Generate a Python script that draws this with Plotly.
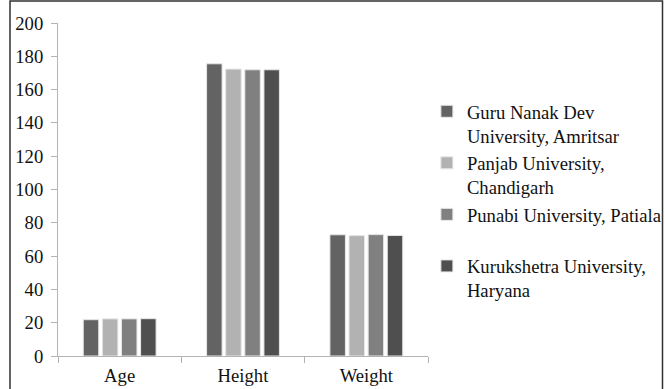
import plotly.graph_objects as go

categories = ["Age", "Height", "Weight"]
series_names = [
    "Guru Nanak Dev<br>University, Amritsar",
    "Panjab University,<br>Chandigarh",
    "Punabi University, Patiala<br> ",
    "Kurukshetra University,<br>Haryana",
]
guru_nanak = [21.8, 175.5, 72.8]
panjab = [22.3, 172.3, 72.3]
punjabi = [22.3, 171.9, 72.9]
kurukshetra = [22.4, 171.9, 72.4]
y_ticks = [0, 20, 40, 60, 80, 100, 120, 140, 160, 180, 200]

colors = ["#636363", "#b2b2b2", "#808080", "#4f4f4f"]
series_values = [guru_nanak, panjab, punjabi, kurukshetra]

FONT = "Liberation Serif"
FS = 18.67

fig = go.Figure()
for name, vals, col in zip(series_names, series_values, colors):
    fig.add_trace(go.Bar(
        x=categories, y=vals, name=name,
        marker=dict(color=col, line=dict(color="#e6e6e6", width=1)),
    ))

fig.update_layout(
    width=665, height=389,
    margin=dict(l=58, r=237, t=23, b=33, autoexpand=False),
    paper_bgcolor="white", plot_bgcolor="white",
    barmode="group", bargap=0.38, bargroupgap=0.19,
    font=dict(family=FONT, size=FS, color="#111111"),
    showlegend=True,
    legend=dict(
        x=0.997, xanchor="left", y=0.465, yanchor="middle",
        valign="top", font=dict(family=FONT, size=FS, color="#111111"),
        bgcolor="rgba(0,0,0,0)", tracegroupgap=0,
    ),
    xaxis=dict(
        showline=True, linecolor="#b4b4b4", linewidth=1,
        ticks="outside", tickson="boundaries", ticklen=6, tickcolor="#b4b4b4",
        ticklabelstandoff=3,
        showgrid=False, tickfont=dict(family=FONT, size=FS),
    ),
    yaxis=dict(
        range=[0, 200], tickvals=y_ticks, showline=True, linecolor="#b4b4b4",
        linewidth=1, ticks="outside", ticklen=6, tickcolor="#b4b4b4",
        ticklabelstandoff=4,
        showgrid=False, zeroline=False, tickfont=dict(family=FONT, size=FS),
    ),
)

fig.add_shape(type="rect", xref="paper", yref="paper",
              x0=(10 - 58) / 370, x1=(662.5 - 58) / 370,
              y0=(356 - 400) / 333, y1=(356 - 1) / 333,
              line=dict(color="#303030", width=1.5), fillcolor="rgba(0,0,0,0)")

fig.write_html("out.html", config={"displayModeBar": False},
               post_script="document.body.style.margin='0';")
